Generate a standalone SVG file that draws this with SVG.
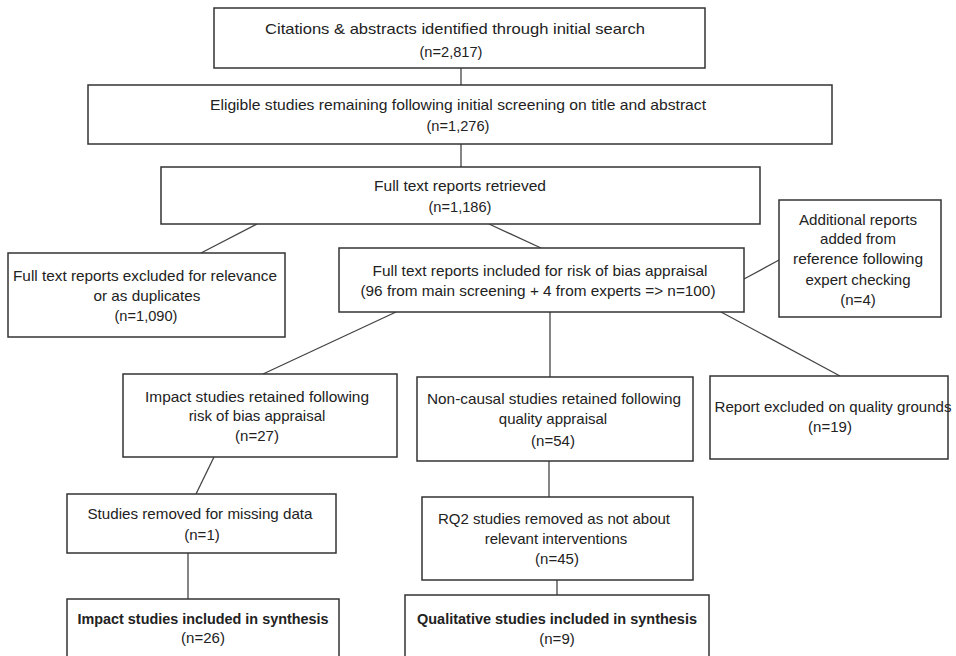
<svg xmlns="http://www.w3.org/2000/svg" width="956" height="656" viewBox="0 0 956 656">
<style>
.b{fill:#fff;stroke:#333;stroke-width:1.5}
.c{stroke:#444;stroke-width:1.3;fill:none}
text{font-family:"Liberation Sans",Arial,sans-serif;font-size:15px;fill:#222;text-anchor:middle}
.bold{font-weight:bold}
</style>
<rect width="956" height="656" fill="#fff"/>
<g id="connectors">
<line class="c" x1="461" y1="68" x2="461" y2="85"/>
<line class="c" x1="461" y1="144" x2="461" y2="167"/>
<line class="c" x1="257" y1="224" x2="201" y2="253"/>
<line class="c" x1="489" y1="224" x2="541" y2="248"/>
<line class="c" x1="779" y1="260" x2="744" y2="279"/>
<line class="c" x1="396" y1="312" x2="263" y2="374"/>
<line class="c" x1="550" y1="312" x2="550" y2="377"/>
<line class="c" x1="721" y1="312" x2="840" y2="376"/>
<line class="c" x1="214" y1="457" x2="196" y2="494"/>
<line class="c" x1="188" y1="553" x2="188" y2="599"/>
<line class="c" x1="549" y1="461" x2="549" y2="497"/>
<line class="c" x1="557" y1="580" x2="557" y2="595"/>
</g>
<g id="n1"><rect class="b" x="214" y="8" width="491" height="60"/>
<text x="455" y="34" textLength="380" lengthAdjust="spacingAndGlyphs">Citations &amp; abstracts identified through initial search</text>
<text x="451" y="57" textLength="63" lengthAdjust="spacingAndGlyphs">(n=2,817)</text></g>
<g id="n2"><rect class="b" x="88" y="85" width="744" height="59"/>
<text x="458" y="110" textLength="496" lengthAdjust="spacingAndGlyphs">Eligible studies remaining following initial screening on title and abstract</text>
<text x="458" y="131" textLength="63" lengthAdjust="spacingAndGlyphs">(n=1,276)</text></g>
<g id="n3"><rect class="b" x="161" y="167" width="599" height="57"/>
<text x="460" y="191" textLength="172" lengthAdjust="spacingAndGlyphs">Full text reports retrieved</text>
<text x="460" y="212" textLength="63" lengthAdjust="spacingAndGlyphs">(n=1,186)</text></g>
<g id="n4"><rect class="b" x="8" y="253" width="277" height="84"/>
<text x="145" y="281" textLength="264" lengthAdjust="spacingAndGlyphs">Full text reports excluded for relevance</text>
<text x="147" y="301" textLength="107" lengthAdjust="spacingAndGlyphs">or as duplicates</text>
<text x="146" y="321" textLength="63" lengthAdjust="spacingAndGlyphs">(n=1,090)</text></g>
<g id="n5"><rect class="b" x="339" y="248" width="405" height="64"/>
<text x="540" y="276" textLength="335" lengthAdjust="spacingAndGlyphs">Full text reports included for risk of bias appraisal</text>
<text x="538" y="296" textLength="355" lengthAdjust="spacingAndGlyphs">(96 from main screening + 4 from experts =&gt; n=100)</text></g>
<g id="n6"><rect class="b" x="779" y="200" width="162" height="117"/>
<text x="858" y="225" textLength="118" lengthAdjust="spacingAndGlyphs">Additional reports</text>
<text x="858" y="244">added from</text>
<text x="858" y="264" textLength="130" lengthAdjust="spacingAndGlyphs">reference following</text>
<text x="858" y="285">expert checking</text>
<text x="858" y="305">(n=4)</text></g>
<g id="n7"><rect class="b" x="123" y="374" width="274" height="83"/>
<text x="257" y="402" textLength="224" lengthAdjust="spacingAndGlyphs">Impact studies retained following</text>
<text x="257" y="421">risk of bias appraisal</text>
<text x="257" y="441">(n=27)</text></g>
<g id="n8"><rect class="b" x="417" y="377" width="276" height="84"/>
<text x="554" y="404" textLength="254" lengthAdjust="spacingAndGlyphs">Non-causal studies retained following</text>
<text x="553" y="424">quality appraisal</text>
<text x="553" y="446">(n=54)</text></g>
<g id="n9"><rect class="b" x="710" y="376" width="238" height="83"/>
<text x="833" y="412" textLength="237" lengthAdjust="spacingAndGlyphs">Report excluded on quality grounds</text>
<text x="830" y="432">(n=19)</text></g>
<g id="n10"><rect class="b" x="67" y="494" width="269" height="59"/>
<text x="200" y="519" textLength="225" lengthAdjust="spacingAndGlyphs">Studies removed for missing data</text>
<text x="202" y="540">(n=1)</text></g>
<g id="n11"><rect class="b" x="422" y="497" width="271" height="83"/>
<text x="554" y="524" textLength="232" lengthAdjust="spacingAndGlyphs">RQ2 studies removed as not about</text>
<text x="556" y="544">relevant interventions</text>
<text x="557" y="564">(n=45)</text></g>
<g id="n12"><rect class="b" x="67" y="599" width="272" height="70"/>
<text class="bold" x="203" y="624" textLength="251" lengthAdjust="spacingAndGlyphs">Impact studies included in synthesis</text>
<text x="203" y="643">(n=26)</text></g>
<g id="n13"><rect class="b" x="405" y="595" width="304" height="75"/>
<text class="bold" x="557" y="624" textLength="280" lengthAdjust="spacingAndGlyphs">Qualitative studies included in synthesis</text>
<text x="557" y="644">(n=9)</text></g>
</svg>
